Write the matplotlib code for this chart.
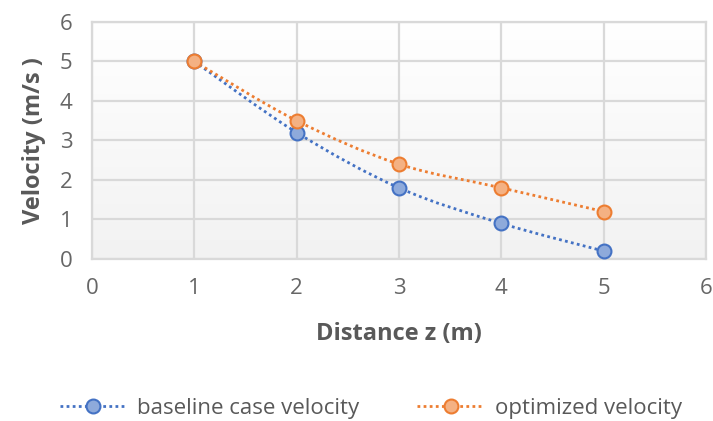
import numpy as np
import matplotlib
matplotlib.use("Agg")
import matplotlib.pyplot as plt
from matplotlib.path import Path
from matplotlib.patches import PathPatch
from matplotlib.lines import Line2D
from matplotlib.colors import LinearSegmentedColormap

distance = [1, 2, 3, 4, 5]
baseline_velocity = [5.0, 3.2, 1.8, 0.9, 0.2]
optimized_velocity = [5.0, 3.5, 2.4, 1.8, 1.2]
series_names = ["baseline case velocity", "optimized velocity"]
x_ticks = [0, 1, 2, 3, 4, 5, 6]
y_ticks = [0, 1, 2, 3, 4, 5, 6]

plt.rcParams['font.family'] = ['Open Sans', 'DejaVu Sans']

fig = plt.figure(figsize=(7.13, 4.21), dpi=100)
ax = fig.add_axes([0.129, 0.385, 0.861, 0.563])

# gradient background
grad = np.linspace(0, 1, 256).reshape(-1, 1)
cmap = LinearSegmentedColormap.from_list("g", ["#ffffff", "#f2f2f2"])
ax.imshow(grad, extent=[0, 6, 0, 6], aspect='auto', cmap=cmap, origin='upper', zorder=0)

ax.set_xlim(0, 6)
ax.set_ylim(0, 6)
ax.set_xticks(x_ticks)
ax.set_yticks(y_ticks)
ax.grid(True, color='#d9d9d9', linewidth=1.6, zorder=1)
for s in ax.spines.values():
    s.set_color('#d9d9d9')
    s.set_linewidth(1.6)
ax.tick_params(length=0, labelsize=16, colors='#666666')
ax.tick_params(axis='x', pad=14)
ax.tick_params(axis='y', pad=14)

def smooth_path(xs, ys):
    pts = np.column_stack([xs, ys]).astype(float)
    verts = [pts[0]]
    codes = [Path.MOVETO]
    n = len(pts)
    for i in range(n - 1):
        p0 = pts[i - 1] if i > 0 else pts[i]
        p1 = pts[i]
        p2 = pts[i + 1]
        p3 = pts[i + 2] if i + 2 < n else pts[i + 1]
        c1 = p1 + (p2 - p0) / 6.0
        c2 = p2 - (p3 - p1) / 6.0
        verts += [c1, c2, p2]
        codes += [Path.CURVE4] * 3
    return Path(verts, codes)

styles = [
    dict(line='#4472c4', face='#8eaadb', edge='#4472c4'),
    dict(line='#ed7d31', face='#f4b183', edge='#ed7d31'),
]
for ys, st in zip([baseline_velocity, optimized_velocity], styles):
    p = smooth_path(distance, ys)
    ax.add_patch(PathPatch(p, facecolor='none', edgecolor=st['line'],
                           linewidth=2.0, linestyle=(0, (1, 1.2)), zorder=3, clip_on=False))
    ax.plot(distance, ys, linestyle='none', marker='o', markersize=10,
            markerfacecolor=st['face'], markeredgecolor=st['edge'],
            markeredgewidth=1.5, zorder=4, clip_on=False)

ax.set_xlabel("Distance z (m)", fontsize=17, fontweight='bold', color='#595959', labelpad=16)
ax.set_ylabel("Velocity (m/s )", fontsize=17, fontweight='bold', color='#595959', labelpad=10)

handles = []
for name, st in zip(series_names, styles):
    handles.append(Line2D([], [], color=st['line'], linewidth=2.0, linestyle=(0, (1, 1.2)),
                          marker='o', markersize=10, markerfacecolor=st['face'],
                          markeredgecolor=st['edge'], markeredgewidth=1.5, label=name))
fig.legend(handles=handles, loc='center', bbox_to_anchor=(0.52, 0.03), ncol=2,
           frameon=False, fontsize=16, labelcolor='#595959', handlelength=3.0,
           columnspacing=2.6, handletextpad=0.5)

fig.savefig("out.png", dpi=100)
